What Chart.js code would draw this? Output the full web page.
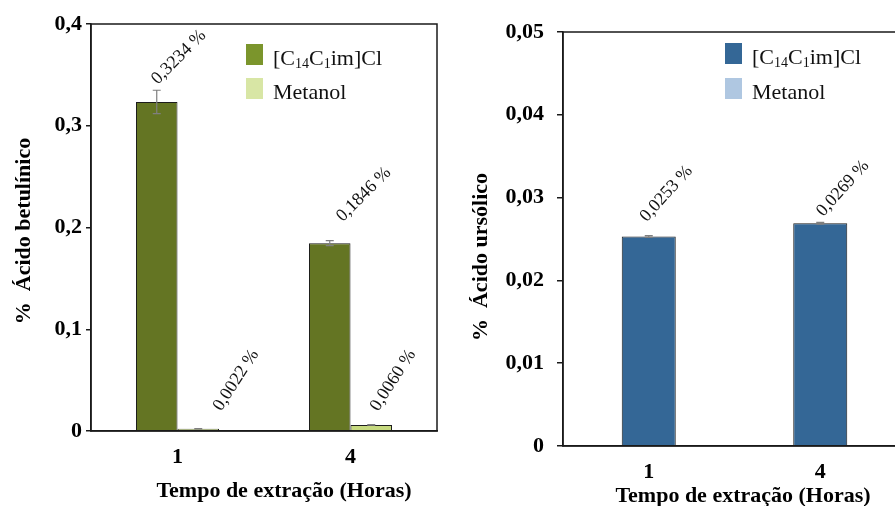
<!DOCTYPE html>
<html>
<head>
<meta charset="utf-8">
<script src="https://cdn.jsdelivr.net/npm/chart.js@4/dist/chart.umd.min.js"></script>
<style>
  html, body { margin: 0; padding: 0; background: #fff; overflow: hidden; width: 895px; height: 506px; }
  canvas { position: absolute; top: 0; }
  #betulinico { left: 0; }
  #ursolico { left: 450px; }
</style>
</head>
<body>
<canvas id="betulinico" width="450" height="506"></canvas>
<canvas id="ursolico" width="460" height="506"></canvas>
<script>
// Extraction time categories (hours)
const horas = ['1', '4'];

// Betulinic acid (%), ionic liquid vs methanol, with standard deviations
const betulinicoIL = [0.3234, 0.1846];
const betulinicoILErro = [0.0115, 0.0025];
const betulinicoMeOH = [0.0022, 0.0060];
const betulinicoMeOHErro = [0.0002, 0.0003];

// Ursolic acid (%), only the ionic liquid was quantified
const ursolicoIL = [0.0253, 0.0269];
const ursolicoILErro = [0.0001, 0.0001];
const ursolicoMeOH = [null, null];

// Y axis ticks
const yTicksBetulinico = [0, 0.1, 0.2, 0.3, 0.4];
const yLabelsBetulinico = ['0', '0,1', '0,2', '0,3', '0,4'];
const yTicksUrsolico = [0, 0.01, 0.02, 0.03, 0.04, 0.05];
const yLabelsUrsolico = ['0', '0,01', '0,02', '0,03', '0,04', '0,05'];

// Series names and titles
const serieIL = '[C₁₄C₁im]Cl';
const serieMeOH = 'Metanol';
const tituloX = 'Tempo de extração (Horas)';
const tituloYBetulinico = '%  Ácido betulínico';
const tituloYUrsolico = '%  Ácido ursólico';

const SERIF = '"Liberation Serif", "Times New Roman", serif';

// Closed frame around the plot area
const framePlugin = {
  id: 'frame',
  afterDatasetsDraw(chart) {
    const { ctx, chartArea: a } = chart;
    ctx.save();
    ctx.strokeStyle = '#1a1a1a';
    ctx.lineWidth = 1.5;
    ctx.strokeRect(a.left, a.top, a.right - a.left, a.bottom - a.top);
    ctx.restore();
  }
};

// Standard-deviation whiskers on top of each bar
const errorBarPlugin = {
  id: 'errorBars',
  afterDatasetsDraw(chart) {
    const { ctx } = chart;
    chart.data.datasets.forEach((ds, di) => {
      if (!ds.errors) return;
      const meta = chart.getDatasetMeta(di);
      const yScale = chart.scales[meta.yAxisID];
      meta.data.forEach((bar, i) => {
        const v = ds.data[i], e = ds.errors[i];
        if (v == null || e == null) return;
        const yTop = yScale.getPixelForValue(v + e);
        const yBot = yScale.getPixelForValue(Math.max(0, v - e));
        const cap = 4;
        ctx.save();
        ctx.strokeStyle = '#7f7f7f';
        ctx.lineWidth = 1.2;
        ctx.beginPath();
        ctx.moveTo(bar.x, yTop); ctx.lineTo(bar.x, yBot);
        ctx.moveTo(bar.x - cap, yTop); ctx.lineTo(bar.x + cap, yTop);
        ctx.moveTo(bar.x - cap, yBot); ctx.lineTo(bar.x + cap, yBot);
        ctx.stroke();
        ctx.restore();
      });
    });
  }
};

// Rotated value labels ("0,3234 %")
const valueLabelPlugin = {
  id: 'valueLabels',
  afterDatasetsDraw(chart) {
    const { ctx } = chart;
    chart.data.datasets.forEach((ds, di) => {
      const meta = chart.getDatasetMeta(di);
      meta.data.forEach((bar, i) => {
        const v = ds.data[i];
        if (v == null) return;
        const [dx, dy] = ds.labelOffsets[i];
        const txt = v.toFixed(4).replace('.', ',') + ' %';
        ctx.save();
        ctx.translate(bar.x + dx, bar.y + dy);
        ctx.rotate(-ds.labelAngle * Math.PI / 180);
        ctx.font = '18px ' + SERIF;
        ctx.fillStyle = '#111';
        ctx.textAlign = 'left';
        ctx.textBaseline = 'alphabetic';
        ctx.fillText(txt, 0, 0);
        ctx.restore();
      });
    });
  }
};

// Text with Unicode subscript digits drawn as small lowered numerals
function drawRichText(ctx, text, x, baseline, size) {
  const subs = '₀₁₂₃₄₅₆₇₈₉';
  let cx = x;
  for (const ch of text) {
    const k = subs.indexOf(ch);
    if (k >= 0) {
      ctx.font = Math.round(size * 0.65) + 'px ' + SERIF;
      ctx.fillText(String(k), cx, baseline + size * 0.14);
      cx += ctx.measureText(String(k)).width;
    } else {
      ctx.font = size + 'px ' + SERIF;
      ctx.fillText(ch, cx, baseline);
      cx += ctx.measureText(ch).width;
    }
  }
}

// Legend box inside the plot
const boxLegendPlugin = {
  id: 'boxLegend',
  afterDraw(chart, args, opts) {
    const { ctx } = chart;
    ctx.save();
    ctx.textAlign = 'left';
    ctx.textBaseline = 'alphabetic';
    chart.data.datasets.forEach((ds, i) => {
      const top = opts.y + i * opts.rowPitch;
      ctx.fillStyle = ds.legendColor;
      ctx.fillRect(opts.x, top, 17, 21);
      ctx.fillStyle = '#111';
      drawRichText(ctx, ds.label, opts.x + 27, top + 21, 22);
    });
    ctx.restore();
  }
};

// Axis titles
const axisTitlesPlugin = {
  id: 'axisTitles',
  afterDraw(chart, args, opts) {
    const { ctx } = chart;
    ctx.save();
    ctx.fillStyle = '#000';
    ctx.font = 'bold 22px ' + SERIF;
    ctx.textAlign = 'center';
    ctx.textBaseline = 'middle';
    ctx.fillText(opts.x.text, opts.x.cx, opts.x.cy);
    ctx.translate(opts.y.cx, opts.y.cy);
    ctx.rotate(-Math.PI / 2);
    ctx.fillText(opts.y.text, 0, 0);
    ctx.restore();
  }
};

const tickFont = { family: SERIF, size: 22, weight: 'bold' };

function barChart(canvasId, spec) {
  return new Chart(document.getElementById(canvasId), {
    type: 'bar',
    data: { labels: horas, datasets: spec.datasets },
    options: {
      responsive: false,
      animation: false,
      devicePixelRatio: 1,
      layout: { padding: spec.padding },
      datasets: { bar: { categoryPercentage: spec.categoryPercentage, barPercentage: 1, skipNull: true } },
      plugins: {
        legend: { display: false },
        tooltip: { enabled: false },
        boxLegend: spec.legend,
        axisTitles: spec.titles
      },
      scales: {
        x: {
          grid: { display: false, drawTicks: false },
          border: { display: true, color: '#1a1a1a', width: 1.5 },
          ticks: { padding: spec.xTickPadding, color: '#000', font: tickFont },
          afterFit(s) { s.height = spec.xHeight; }
        },
        y: {
          min: 0,
          max: spec.yTicks[spec.yTicks.length - 1],
          afterBuildTicks(s) { s.ticks = spec.yTicks.map(v => ({ value: v })); },
          ticks: {
            callback: (v, i) => spec.yLabels[i],
            padding: spec.yTickPadding,
            color: '#000',
            font: tickFont
          },
          grid: { drawOnChartArea: false, drawTicks: true, tickLength: spec.tickLength, color: '#1a1a1a', lineWidth: 1.5 },
          border: { display: true, color: '#1a1a1a', width: 1.5 },
          afterFit(s) { s.width = spec.yWidth; }
        }
      }
    },
    plugins: [framePlugin, errorBarPlugin, valueLabelPlugin, boxLegendPlugin, axisTitlesPlugin]
  });
}

barChart('betulinico', {
  datasets: [
    {
      label: serieIL, data: betulinicoIL, errors: betulinicoILErro,
      backgroundColor: '#647523', borderColor: '#1c1c1c', borderWidth: 1,
      legendColor: '#7b952c', labelAngle: 45, labelOffsets: [[1, -17], [13, -21]]
    },
    {
      label: serieMeOH, data: betulinicoMeOH, errors: betulinicoMeOHErro,
      backgroundColor: '#c6d97f', borderColor: '#1c1c1c', borderWidth: 1,
      legendColor: '#d8e6a5', labelAngle: 57, labelOffsets: [[23, -17], [7, -13]]
    }
  ],
  padding: { left: 0, top: 24, right: 13, bottom: 0 },
  categoryPercentage: 0.48,
  yTicks: yTicksBetulinico,
  yLabels: yLabelsBetulinico,
  yWidth: 91,
  xHeight: 75,
  xTickPadding: 13,
  yTickPadding: 4,
  tickLength: 5,
  legend: { x: 246, y: 44, rowPitch: 34 },
  titles: {
    x: { text: tituloX, cx: 284, cy: 491 },
    y: { text: tituloYBetulinico, cx: 24, cy: 231 }
  }
});

barChart('ursolico', {
  datasets: [
    {
      label: serieIL, data: ursolicoIL, errors: ursolicoILErro,
      backgroundColor: '#346796', borderColor: '#1c1c1c', borderWidth: 1,
      legendColor: '#346796', labelAngle: 48, labelOffsets: [[-2, -14], [3, -6]]
    },
    {
      label: serieMeOH, data: ursolicoMeOH,
      backgroundColor: '#afc7e1', borderColor: '#1c1c1c', borderWidth: 1,
      legendColor: '#afc7e1', labelAngle: 48, labelOffsets: [[0, 0], [0, 0]]
    }
  ],
  padding: { left: 0, top: 32, right: 4, bottom: 0 },
  categoryPercentage: 0.315,
  yTicks: yTicksUrsolico,
  yLabels: yLabelsUrsolico,
  yWidth: 113,
  xHeight: 60,
  xTickPadding: 13,
  yTickPadding: 13,
  tickLength: 6,
  legend: { x: 275, y: 43, rowPitch: 35 },
  titles: {
    x: { text: tituloX, cx: 293, cy: 496 },
    y: { text: tituloYUrsolico, cx: 31, cy: 257 }
  }
});
</script>
</body>
</html>
